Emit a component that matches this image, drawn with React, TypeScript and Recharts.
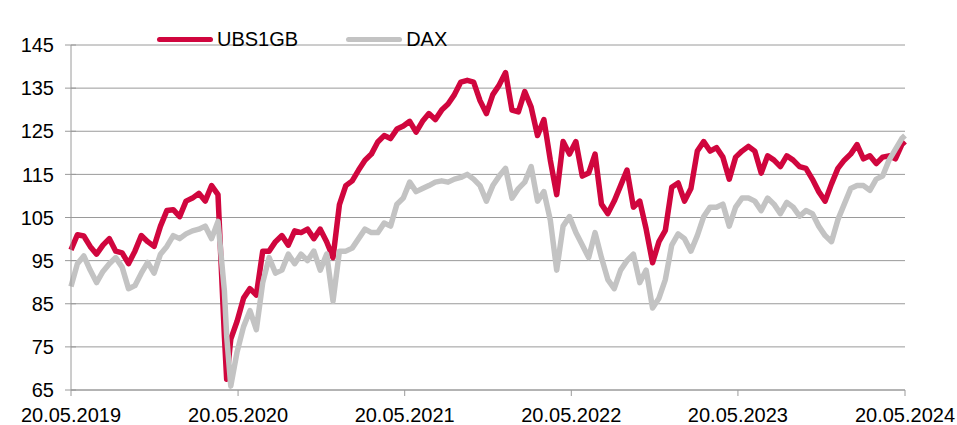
import { LineChart, Line, XAxis, YAxis, CartesianGrid, Legend } from 'recharts';

// days since 20.05.2019 (roughly every two weeks)
const days = [
  0, 14, 28, 42, 56, 70, 84, 98, 112, 126,
  140, 154, 168, 182, 196, 210, 224, 238, 252, 266,
  280, 294, 308, 322, 336, 341, 350, 364, 378, 392, 406,
  420, 434, 448, 462, 476, 490, 504, 518, 532, 546,
  560, 574, 588, 602, 616, 630, 644, 658, 672, 686,
  700, 714, 728, 742, 756, 770, 784, 798, 812, 826,
  840, 854, 868, 882, 896, 910, 924, 938, 952, 966,
  980, 994, 1008, 1022, 1036, 1050, 1064, 1078, 1092, 1106,
  1120, 1134, 1148, 1162, 1176, 1190, 1204, 1218, 1232, 1246,
  1260, 1274, 1288, 1302, 1316, 1330, 1344, 1358, 1372, 1386,
  1400, 1414, 1428, 1442, 1456, 1470, 1484, 1498, 1512, 1526,
  1540, 1554, 1568, 1582, 1596, 1610, 1624, 1638, 1652, 1666,
  1680, 1694, 1708, 1722, 1736, 1750, 1764, 1778, 1792, 1806, 1820,
  1827,
];

const ubs1gb = [
  97.5, 101.0, 100.7, 98.3, 96.5, 98.6, 100.1, 97.2, 96.8, 94.3,
  97.2, 100.8, 99.4, 98.3, 103.0, 106.6, 106.8, 105.2, 108.8, 109.5,
  110.6, 108.8, 112.4, 110.3, 77.6, 67.5, 76.8, 81.0, 86.3, 88.5, 87.0,
  97.2, 97.2, 99.4, 100.8, 98.6, 101.9, 101.5, 102.3, 100.1, 102.3,
  99.4, 95.7, 108.0, 112.4, 113.5, 116.0, 118.3, 119.7, 122.5, 124.0,
  123.3, 125.5, 126.2, 127.3, 124.8, 127.3, 129.1, 127.7, 129.9, 131.3,
  133.5, 136.4, 136.8, 136.4, 132.1, 129.1, 133.5, 135.7, 138.6, 129.9,
  129.5, 134.2, 130.6, 124.0, 127.7, 118.3, 110.3, 122.6, 119.7, 122.6,
  114.6, 115.3, 119.7, 108.1, 105.9, 108.8, 112.4, 116.0, 107.4, 108.8,
  102.3, 94.5, 99.4, 102.0, 112.0, 113.0, 108.8, 111.7, 120.4, 122.6,
  120.4, 121.2, 119.0, 113.9, 119.0, 120.4, 121.5, 120.4, 115.3, 119.3,
  118.3, 116.8, 119.3, 118.3, 116.8, 116.4, 113.9, 111.0, 108.8, 112.8,
  116.4, 118.3, 119.7, 121.9, 118.6, 119.3, 117.5, 119.0, 119.3, 118.6, 121.9,
  122.6,
];

const dax = [
  89.0, 94.3, 96.1, 92.8, 89.9, 92.5, 94.3, 95.7, 93.5, 88.5,
  89.2, 92.1, 94.6, 92.1, 96.5, 98.3, 100.8, 100.1, 101.2, 101.9,
  102.3, 103.0, 100.1, 104.1, 88.0, 77.6, 65.9, 73.9, 79.7, 83.4, 79.0,
  89.9, 95.7, 92.1, 92.8, 96.5, 94.3, 96.5, 95.0, 97.2, 92.8,
  96.5, 85.6, 97.2, 97.2, 97.9, 100.1, 102.3, 101.5, 101.5, 103.7,
  103.0, 108.1, 109.5, 113.2, 111.0, 111.7, 112.4, 113.2, 113.5, 113.2,
  113.9, 114.3, 115.0, 113.9, 112.4, 108.8, 112.4, 114.6, 116.4, 109.5,
  111.7, 113.2, 116.8, 108.8, 111.0, 104.4, 92.8, 103.0, 105.2, 101.5,
  98.6, 95.7, 101.5, 95.7, 90.6, 88.5, 92.8, 95.0, 96.5, 89.9,
  92.8, 84.0, 86.3, 90.6, 98.6, 101.2, 100.1, 97.2, 100.8, 105.2,
  107.4, 107.4, 108.1, 103.0, 107.4, 109.5, 109.5, 108.8, 106.6, 109.5,
  108.1, 105.9, 108.5, 107.4, 105.3, 106.6, 105.9, 103.0, 100.8, 99.4,
  104.5, 108.1, 111.7, 112.4, 112.4, 111.3, 113.9, 114.6, 118.3, 120.8, 123.3,
  124.0,
];

const xTicks = [0, 366, 731, 1096, 1461, 1827];
const xLabels = ['20.05.2019', '20.05.2020', '20.05.2021', '20.05.2022', '20.05.2023', '20.05.2024'];
const yTicks = [65, 75, 85, 95, 105, 115, 125, 135, 145];

const series = [
  { key: 'ubs', name: 'UBS1GB', color: '#d0063e' },
  { key: 'dax', name: 'DAX', color: '#c3c3c3' },
];

const data = days.map((d, i) => ({ day: d, ubs: ubs1gb[i], dax: dax[i] }));

const FONT = '"Liberation Sans", Arial, sans-serif';
const AXIS_X = 71;
const GRID = '#9a9a9a';

const YTick = (props: any) => {
  const { y, payload } = props;
  return (
    <g>
      <line x1={AXIS_X - 6} x2={AXIS_X + 5} y1={y} y2={y} stroke={GRID} />
      <text x={AXIS_X - 17} y={y} dy="0.36em" textAnchor="end" fontSize={20} fontFamily={FONT} fill="#000">
        {payload.value}
      </text>
    </g>
  );
};

const renderLegend = () => (
  <div style={{ display: 'flex', alignItems: 'center', fontFamily: FONT, fontSize: 20, color: '#000' }}>
    {series.map((s, i) => (
      <span key={s.key} style={{ display: 'flex', alignItems: 'center', marginRight: i === 0 ? 48 : 0 }}>
        <span style={{ display: 'inline-block', width: 56, height: 5, borderRadius: 3, background: s.color, marginRight: 4 }} />
        {s.name}
      </span>
    ))}
  </div>
);

export default function App() {
  return (
    <div style={{ position: 'absolute', left: 0, top: 0, background: '#fff' }}>
      <LineChart width={957} height={425} data={data} margin={{ top: 22, right: 52, left: 0, bottom: 0 }}>
        <CartesianGrid vertical={false} stroke={GRID} />
        <XAxis
          dataKey="day"
          type="number"
          domain={[0, 1827]}
          ticks={xTicks}
          interval={0}
          tickFormatter={(v: number) => xLabels[xTicks.indexOf(v)] ?? ''}
          height={35}
          stroke={GRID}
          tickSize={6}
          tickMargin={12}
          tick={{ fontSize: 20, fontFamily: FONT, fill: '#000' }}
        />
        <YAxis
          domain={[65, 145]}
          ticks={yTicks}
          interval={0}
          width={71}
          stroke={GRID}
          tickLine={false}
          tick={YTick}
        />
        <Legend verticalAlign="top" content={renderLegend} wrapperStyle={{ position: 'absolute', top: 28, left: 157, width: 'auto' }} />
        {series.map((s) => (
          <Line
            key={s.key}
            type="linear"
            dataKey={s.key}
            name={s.name}
            stroke={s.color}
            strokeWidth={5.5}
            strokeLinejoin="round"
            dot={false}
            isAnimationActive={false}
          />
        ))}
      </LineChart>
    </div>
  );
}
